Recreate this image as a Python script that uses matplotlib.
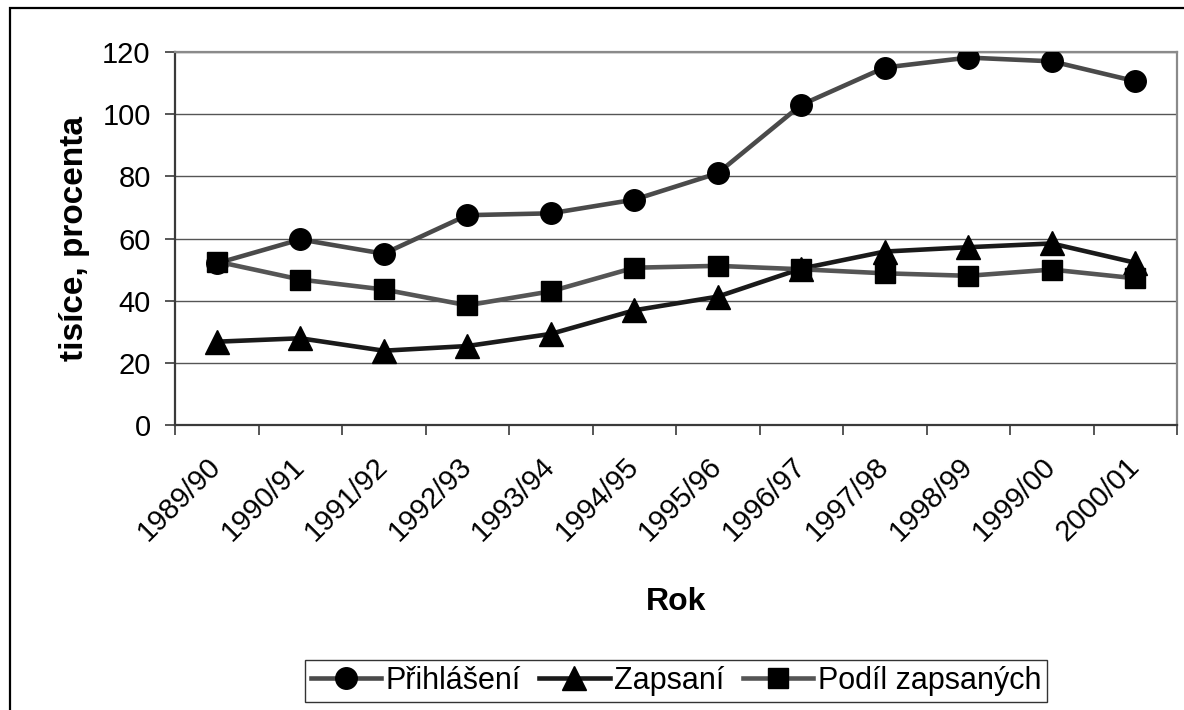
import matplotlib
matplotlib.use("Agg")
import matplotlib.pyplot as plt
from matplotlib.patches import Rectangle
import numpy as np

plt.rcParams['font.family'] = ['Liberation Sans', 'DejaVu Sans']

years = ["1989/90", "1990/91", "1991/92", "1992/93", "1993/94", "1994/95",
         "1995/96", "1996/97", "1997/98", "1998/99", "1999/00", "2000/01"]
prihlaseni = [52.0, 59.7, 55.1, 67.5, 68.1, 72.5, 81.0, 103.0, 115.0, 118.2, 117.0, 110.6]
zapsani = [26.8, 27.9, 23.9, 25.4, 29.3, 36.9, 41.3, 50.3, 55.8, 57.2, 58.4, 52.2]
podil = [52.6, 46.8, 43.6, 38.5, 43.0, 50.6, 51.2, 50.1, 48.8, 48.0, 50.0, 47.2]

W, H = 1184, 710
fig = plt.figure(figsize=(W / 100, H / 100), dpi=100)
ax = fig.add_axes([175 / W, 1 - 425 / H, (1177 - 175) / W, (425 - 52) / H])

x = np.arange(len(years))
ms = 15.5
lw = 3.3
ax.plot(x, prihlaseni, color='#4a4a4a', lw=lw, marker='o', ms=ms,
        mfc='black', mec='black', label='Přihlášení', zorder=3)
ax.plot(x, zapsani, color='#1a1a1a', lw=lw, marker='^', ms=ms + 1.5,
        mfc='black', mec='black', label='Zapsaní', zorder=4)
ax.plot(x, podil, color='#555555', lw=lw, marker='s', ms=ms - 1,
        mfc='black', mec='black', label='Podíl zapsaných', zorder=5)

ax.set_xlim(-0.5, len(years) - 0.5)
ax.set_ylim(0, 120)
ax.set_yticks(np.arange(0, 121, 20))
ax.yaxis.grid(True, color='#555555', lw=1.0)
ax.set_axisbelow(True)

for s in ['top', 'right']:
    ax.spines[s].set_color('#8a8a8a')
    ax.spines[s].set_linewidth(1.6)
for s in ['left', 'bottom']:
    ax.spines[s].set_color('#3a3a3a')
    ax.spines[s].set_linewidth(1.6)

ax.tick_params(axis='y', direction='out', length=7.5, width=1.2, color='#3a3a3a',
               labelsize=21, pad=10)
ax.set_xticks(x)
ax.set_xticks(np.arange(-0.5, len(years), 1.0), minor=True)
ax.tick_params(axis='x', which='minor', direction='out', length=7.5, width=1.2,
               color='#3a3a3a')
ax.tick_params(axis='x', which='major', length=0, pad=27)
ax.set_xticklabels(years, rotation=45, ha='right', va='center',
                   rotation_mode='anchor', fontsize=21)

ax.set_xlabel('Rok', fontsize=23, fontweight='bold')
ax.xaxis.set_label_coords(0.5, (425 - 587) / 373)
ax.set_ylabel('tisíce, procenta', fontsize=24, fontweight='bold', va='center')
ax.yaxis.set_label_coords((75 - 175) / 1002, 0.5)

leg = fig.legend(loc='center', bbox_to_anchor=(676 / W, 1 - 681 / H), ncol=3,
                 fontsize=22, frameon=True, fancybox=False, edgecolor='black',
                 handlelength=2.3, handletextpad=0.15, columnspacing=0.6,
                 borderpad=0.2, borderaxespad=0)
leg.get_frame().set_linewidth(1.0)

fig.patches.append(Rectangle((10 / W, -0.05), 1.2, (1 - 8 / H) + 0.05,
                             transform=fig.transFigure, fill=False,
                             edgecolor='black', lw=1.6, zorder=0))

fig.savefig('out.png', dpi=100)
